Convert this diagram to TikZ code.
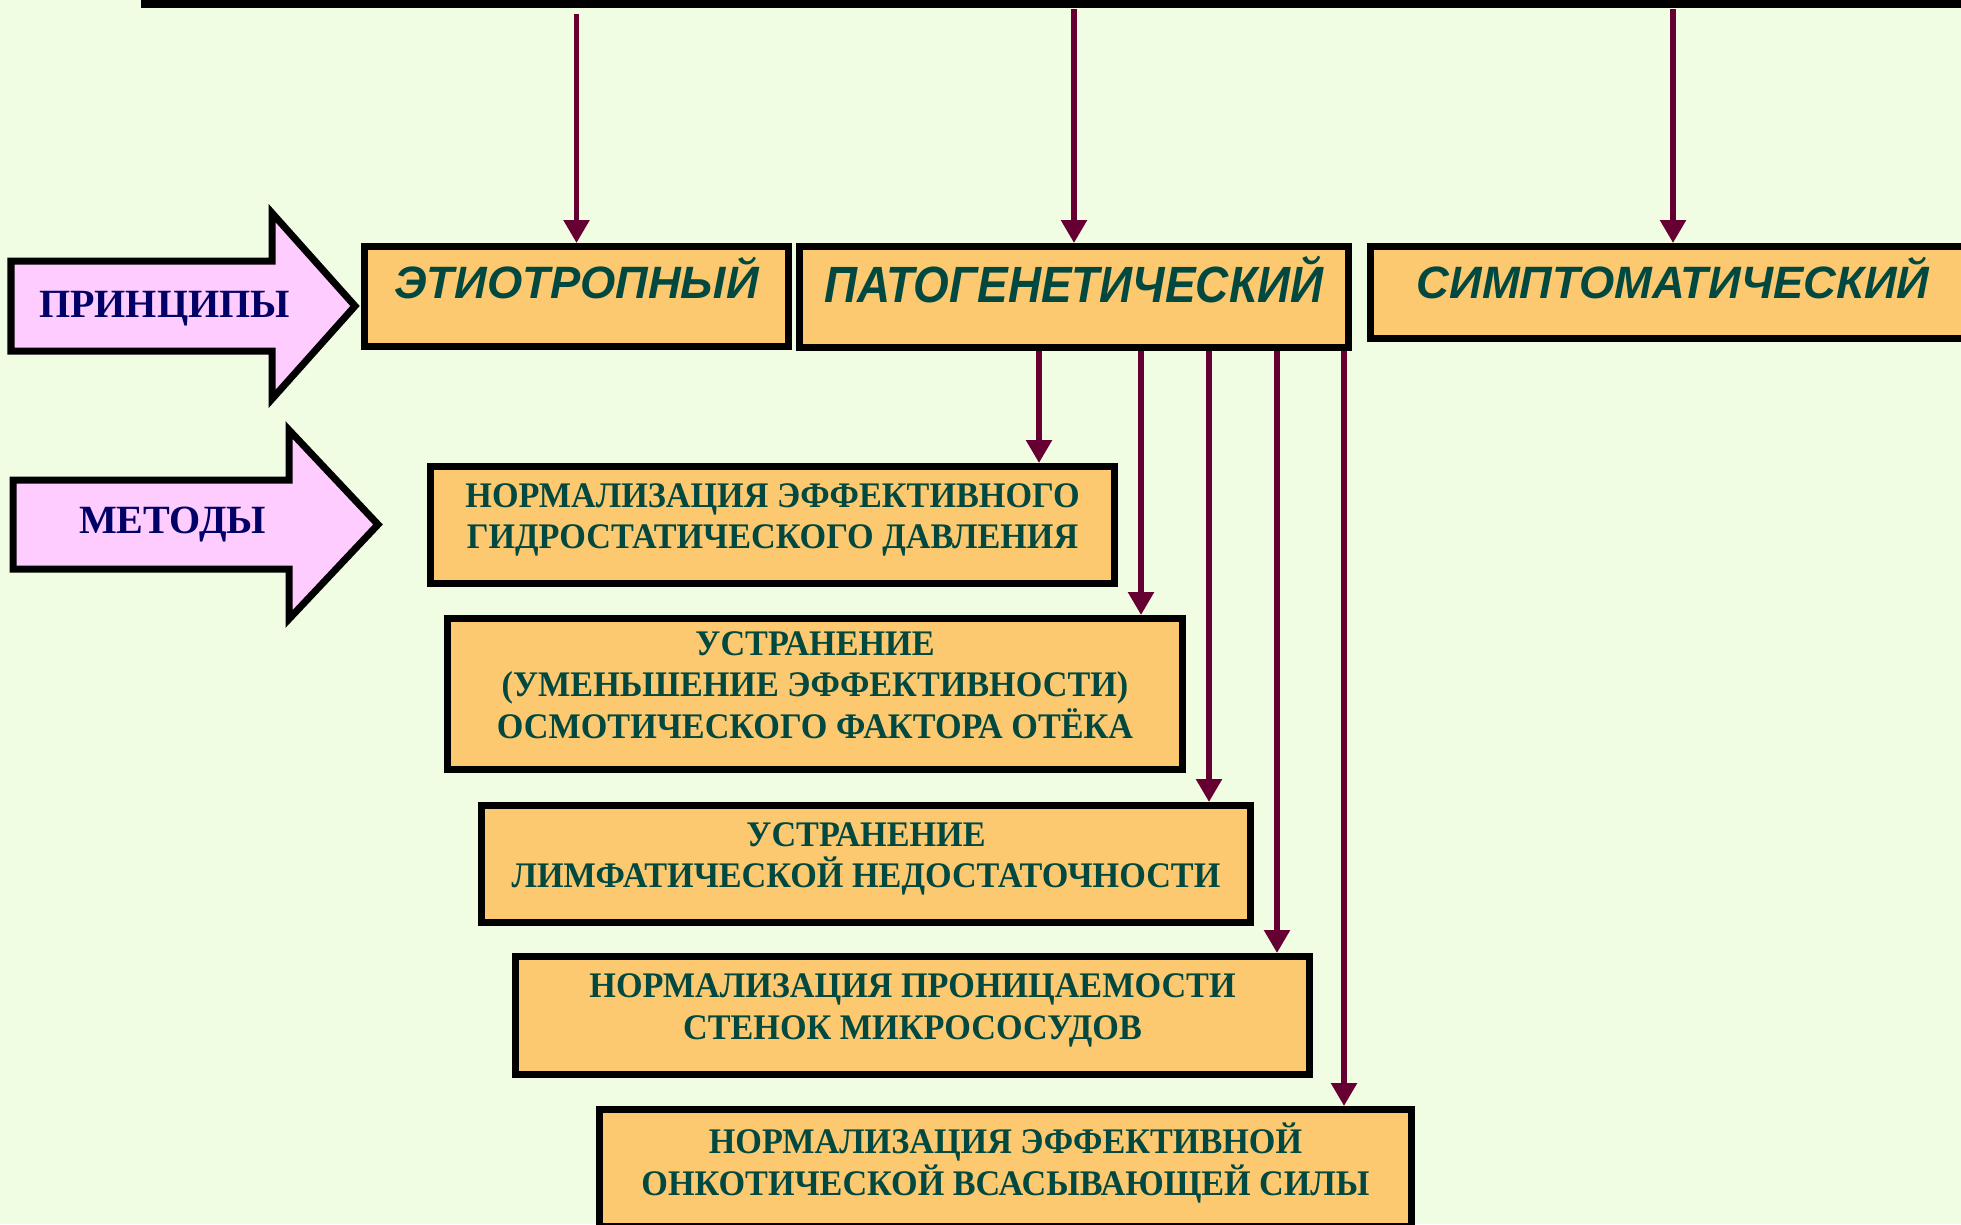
\documentclass[tikz,border=0pt]{standalone}
\usepackage{fontspec}
\setmainfont{Liberation Serif}
\newfontfamily\headsans{Liberation Sans}
\newfontfamily\narrowsans[FakeStretch=0.9]{Liberation Sans}
\newfontfamily\methserif[FakeStretch=0.95]{Liberation Serif}
\usetikzlibrary{arrows.meta, calc}

\definecolor{bgcream}{RGB}{240,253,227}
\definecolor{boxorange}{RGB}{252,200,112}
\definecolor{tealtext}{RGB}{0,72,64}
\definecolor{navytext}{RGB}{0,0,102}
\definecolor{arrowpink}{RGB}{255,204,255}
\definecolor{linkmaroon}{RGB}{102,0,51}

\newcommand{\princfont}{\headsans\bfseries\itshape\fontsize{12.9pt}{15pt}\selectfont}
\newcommand{\methfont}{\methserif\bfseries\fontsize{10.24pt}{11.8pt}\selectfont}
\newcommand{\bigfont}{\bfseries\fontsize{11.4pt}{13pt}\selectfont}

\begin{document}
\begin{tikzpicture}[x=1cm, y=-1cm]
    \tikzstyle{principle} = [draw, line width=0.07cm, fill=boxorange, text=tealtext, font=\princfont, inner sep=0pt]
    \tikzstyle{method} = [draw, line width=0.07cm, fill=boxorange, text=tealtext, font=\methfont, align=center, inner sep=0pt, minimum height=1.17cm, execute at end node={\rule[-0.18cm]{0pt}{0pt}}]
    \tikzstyle{bigarrow} = [draw, line width=0.07cm, fill=arrowpink]
    \tikzstyle{bigword} = [text=navytext, font=\bigfont, anchor=base]
    \tikzstyle{link} = [draw=linkmaroon, line width=0.055cm, -{Triangle[length=0.23cm, width=0.25cm]}]

    \useasboundingbox (0,0) rectangle (19.61,12.24);
    \fill[bgcream] (0,0) rectangle (19.61,12.24);

    % top bar
    \node[fill=black, inner sep=0pt, minimum width=18.6cm, minimum height=0.16cm, anchor=west] (bar) at (1.40,0) {};

    % principles
    \node[principle, minimum width=4.24cm, minimum height=1.00cm, text height=0.30cm, text depth=0.27cm] (etio) at (5.765,2.965) {ЭТИОТРОПНЫЙ};
    \node[principle, minimum width=5.49cm, minimum height=1.01cm, text height=0.32cm, text depth=0.22cm, font=\narrowsans\bfseries\itshape\fontsize{14.5pt}{16pt}\selectfont] (pato) at (10.74,2.97) {ПАТОГЕНЕТИЧЕСКИЙ};
    \node[principle, minimum width=6.05cm, minimum height=0.92cm, text height=0.32cm, text depth=0.21cm] (simp) at (16.73,2.925) {СИМПТОМАТИЧЕСКИЙ};

    \draw[link, shorten <=0.05cm] (bar.south -| etio.north) -- (etio.north);
    \draw[link] (bar.south -| pato.north) -- (pato.north);
    \draw[link] (bar.south -| simp.north) -- (simp.north);

    % big arrows
    \draw[bigarrow] (0.11,2.61) -- (2.72,2.61) -- (2.72,2.13) -- (3.55,3.06) -- (2.72,3.99) -- (2.72,3.51) -- (0.11,3.51) -- cycle;
    \node[bigword] (principles) at (1.645,3.17) {ПРИНЦИПЫ};
    \draw[bigarrow] (0.13,4.80) -- (2.89,4.80) -- (2.89,4.30) -- (3.78,5.245) -- (2.89,6.19) -- (2.89,5.69) -- (0.13,5.69) -- cycle;
    \node[bigword] (methods) at (1.725,5.33) {МЕТОДЫ};

    % methods
    \node[method, minimum width=6.84cm] (hydro) at (7.725,5.25) {НОРМАЛИЗАЦИЯ ЭФФЕКТИВНОГО\\ГИДРОСТАТИЧЕСКОГО ДАВЛЕНИЯ};
    \node[method, minimum width=7.35cm, minimum height=1.51cm] (osmo) at (8.15,6.94) {УСТРАНЕНИЕ\\(УМЕНЬШЕНИЕ ЭФФЕКТИВНОСТИ)\\ОСМОТИЧЕСКОГО ФАКТОРА ОТЁКА};
    \node[method, minimum width=7.69cm] (lymph) at (8.66,8.64) {УСТРАНЕНИЕ\\ЛИМФАТИЧЕСКОЙ НЕДОСТАТОЧНОСТИ};
    \node[method, minimum width=7.94cm, minimum height=1.18cm] (perm) at (9.125,10.155) {НОРМАЛИЗАЦИЯ ПРОНИЦАЕМОСТИ\\СТЕНОК МИКРОСОСУДОВ};
    \node[method, minimum width=8.12cm] (onco) at (10.055,11.68) {НОРМАЛИЗАЦИЯ ЭФФЕКТИВНОЙ\\ОНКОТИЧЕСКОЙ ВСАСЫВАЮЩЕЙ СИЛЫ};

    \foreach \dx/\target in {-0.35/hydro, 0.67/osmo, 1.35/lymph, 2.03/perm, 2.70/onco}{
        \path (pato.south) ++(\dx,0) coordinate (from);
        \draw[link] (from) -- (from |- \target.north);
    }
\end{tikzpicture}
\end{document}
